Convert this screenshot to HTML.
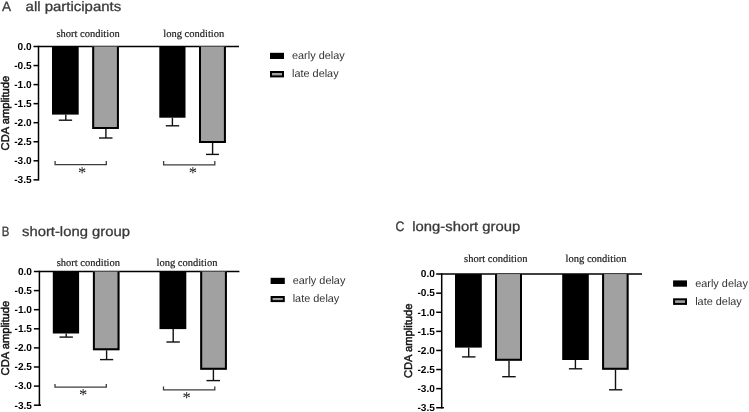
<!DOCTYPE html>
<html><head><meta charset="utf-8"><style>
html,body{margin:0;padding:0;background:#fff;}
body{width:749px;height:412px;overflow:hidden;position:relative;}
svg{position:absolute;left:0;top:0;filter:grayscale(1);}
text{font-family:"Liberation Sans",sans-serif;text-rendering:geometricPrecision;}
.tk{font-size:10.1px;font-weight:bold;text-anchor:end;fill:#000;}
.cond{font-family:"Liberation Serif",serif;font-size:10.5px;fill:#1a1a1a;stroke:#1a1a1a;stroke-width:0.2px;}
.lg{font-size:10.9px;fill:#333;}
.tt{font-size:13.6px;fill:#3a3a3a;stroke:#3a3a3a;stroke-width:0.3px;}
.yl{font-size:11.2px;text-anchor:middle;fill:#111;stroke:#111;stroke-width:0.45px;}
.ast{font-family:"Liberation Serif",serif;font-size:16.5px;text-anchor:middle;fill:#1a1a1a;}
</style></head><body>
<svg width="749" height="412" viewBox="0 0 749 412">
<line x1="38.5" y1="45.75" x2="38.5" y2="180.6" stroke="#000" stroke-width="1.5"/>
<line x1="33.5" y1="46.5" x2="239" y2="46.5" stroke="#000" stroke-width="1.5"/>
<text x="31.6" y="49.8" class="tk">0.0</text>
<line x1="33.5" y1="65.55" x2="38.5" y2="65.55" stroke="#000" stroke-width="1.5"/>
<text x="31.6" y="68.85" class="tk">-0.5</text>
<line x1="33.5" y1="84.6" x2="38.5" y2="84.6" stroke="#000" stroke-width="1.5"/>
<text x="31.6" y="87.9" class="tk">-1.0</text>
<line x1="33.5" y1="103.65" x2="38.5" y2="103.65" stroke="#000" stroke-width="1.5"/>
<text x="31.6" y="106.95" class="tk">-1.5</text>
<line x1="33.5" y1="122.7" x2="38.5" y2="122.7" stroke="#000" stroke-width="1.5"/>
<text x="31.6" y="126.0" class="tk">-2.0</text>
<line x1="33.5" y1="141.75" x2="38.5" y2="141.75" stroke="#000" stroke-width="1.5"/>
<text x="31.6" y="145.05" class="tk">-2.5</text>
<line x1="33.5" y1="160.8" x2="38.5" y2="160.8" stroke="#000" stroke-width="1.5"/>
<text x="31.6" y="164.1" class="tk">-3.0</text>
<line x1="33.5" y1="179.85" x2="38.5" y2="179.85" stroke="#000" stroke-width="1.5"/>
<text x="31.6" y="183.15" class="tk">-3.5</text>
<rect x="52" y="46.5" width="26.7" height="68.1" fill="#000"/>
<line x1="65.8" y1="114.6" x2="65.8" y2="120.2" stroke="#111" stroke-width="1.4"/>
<line x1="58.8" y1="120.2" x2="72.1" y2="120.2" stroke="#111" stroke-width="1.4"/>
<rect x="92.2" y="46.5" width="26.7" height="82.5" fill="#a1a1a1"/>
<path d="M93.2 46.5 V128.0 H117.9 V46.5" fill="none" stroke="#000" stroke-width="2"/>
<line x1="105.9" y1="129.0" x2="105.9" y2="138.0" stroke="#111" stroke-width="1.4"/>
<line x1="99" y1="138.0" x2="112.5" y2="138.0" stroke="#111" stroke-width="1.4"/>
<rect x="159.3" y="46.5" width="26.2" height="71.2" fill="#000"/>
<line x1="172.4" y1="117.7" x2="172.4" y2="125.8" stroke="#111" stroke-width="1.4"/>
<line x1="165.8" y1="125.8" x2="179.2" y2="125.8" stroke="#111" stroke-width="1.4"/>
<rect x="199" y="46.5" width="26.9" height="96.5" fill="#a1a1a1"/>
<path d="M200 46.5 V142.0 H224.9 V46.5" fill="none" stroke="#000" stroke-width="2"/>
<line x1="212.6" y1="143.0" x2="212.6" y2="154.4" stroke="#111" stroke-width="1.4"/>
<line x1="206" y1="154.4" x2="219" y2="154.4" stroke="#111" stroke-width="1.4"/>
<path d="M55.1 161.0 V164.6 H106.3 V161.0" fill="none" stroke="#3c3c3c" stroke-width="1.3"/>
<text x="82.1" y="177.80" class="ast">*</text>
<path d="M163.6 161.1 V164.8 H214.8 V161.1" fill="none" stroke="#3c3c3c" stroke-width="1.3"/>
<text x="192.8" y="177.90" class="ast">*</text>
<text x="56.4" y="37" class="cond">short condition</text>
<text x="163.3" y="36.9" class="cond">long condition</text>
<rect x="270" y="52.8" width="14" height="6.2" fill="#000"/>
<rect x="271" y="72" width="12" height="4.4" fill="#a1a1a1" stroke="#000" stroke-width="2"/>
<text x="292" y="58.8" class="lg">early delay</text>
<text x="292" y="77.1" class="lg">late delay</text>
<text x="2.1" y="11.1" class="tt">A</text>
<text x="25.6" y="11.1" class="tt" textLength="95.6" lengthAdjust="spacingAndGlyphs">all participants</text>
<text x="0" y="0" class="yl" transform="translate(8.6 113.1) rotate(-90)">CDA amplitude</text>
<line x1="39.4" y1="270.75" x2="39.4" y2="405.95" stroke="#000" stroke-width="1.5"/>
<line x1="33.9" y1="271.5" x2="239.4" y2="271.5" stroke="#000" stroke-width="1.5"/>
<text x="32.0" y="274.8" class="tk">0.0</text>
<line x1="33.9" y1="290.6" x2="39.4" y2="290.6" stroke="#000" stroke-width="1.5"/>
<text x="32.0" y="293.9" class="tk">-0.5</text>
<line x1="33.9" y1="309.7" x2="39.4" y2="309.7" stroke="#000" stroke-width="1.5"/>
<text x="32.0" y="313.0" class="tk">-1.0</text>
<line x1="33.9" y1="328.8" x2="39.4" y2="328.8" stroke="#000" stroke-width="1.5"/>
<text x="32.0" y="332.1" class="tk">-1.5</text>
<line x1="33.9" y1="347.9" x2="39.4" y2="347.9" stroke="#000" stroke-width="1.5"/>
<text x="32.0" y="351.2" class="tk">-2.0</text>
<line x1="33.9" y1="367.0" x2="39.4" y2="367.0" stroke="#000" stroke-width="1.5"/>
<text x="32.0" y="370.3" class="tk">-2.5</text>
<line x1="33.9" y1="386.1" x2="39.4" y2="386.1" stroke="#000" stroke-width="1.5"/>
<text x="32.0" y="389.4" class="tk">-3.0</text>
<line x1="33.9" y1="405.2" x2="41.0" y2="405.2" stroke="#000" stroke-width="1.5"/>
<text x="32.0" y="408.5" class="tk">-3.5</text>
<rect x="52.8" y="271.5" width="26.3" height="62.0" fill="#000"/>
<line x1="66.2" y1="333.5" x2="66.2" y2="337.1" stroke="#111" stroke-width="1.4"/>
<line x1="59.5" y1="337.1" x2="72.9" y2="337.1" stroke="#111" stroke-width="1.4"/>
<rect x="92.9" y="271.5" width="26.6" height="78.8" fill="#a1a1a1"/>
<path d="M93.9 271.5 V349.3 H118.5 V271.5" fill="none" stroke="#000" stroke-width="2"/>
<line x1="106.6" y1="350.3" x2="106.6" y2="359.6" stroke="#111" stroke-width="1.4"/>
<line x1="100" y1="359.6" x2="113.2" y2="359.6" stroke="#111" stroke-width="1.4"/>
<rect x="159.5" y="271.5" width="26.8" height="57.6" fill="#000"/>
<line x1="173.2" y1="329.1" x2="173.2" y2="342.0" stroke="#111" stroke-width="1.4"/>
<line x1="166.4" y1="342.0" x2="179.8" y2="342.0" stroke="#111" stroke-width="1.4"/>
<rect x="200.2" y="271.5" width="26.7" height="98.3" fill="#a1a1a1"/>
<path d="M201.2 271.5 V368.8 H225.9 V271.5" fill="none" stroke="#000" stroke-width="2"/>
<line x1="213.4" y1="369.8" x2="213.4" y2="380.6" stroke="#111" stroke-width="1.4"/>
<line x1="206.5" y1="380.6" x2="220" y2="380.6" stroke="#111" stroke-width="1.4"/>
<path d="M55.0 384.0 V387.2 H106.3 V384.0" fill="none" stroke="#3c3c3c" stroke-width="1.3"/>
<text x="83.1" y="399.50" class="ast">*</text>
<path d="M163.5 386.6 V389.9 H214.8 V386.6" fill="none" stroke="#3c3c3c" stroke-width="1.3"/>
<text x="186.7" y="402.50" class="ast">*</text>
<text x="56.7" y="265.7" class="cond">short condition</text>
<text x="156.5" y="265.9" class="cond">long condition</text>
<rect x="270.6" y="277.8" width="14.2" height="6.2" fill="#000"/>
<rect x="271.6" y="297" width="12.2" height="4.1" fill="#a1a1a1" stroke="#000" stroke-width="2"/>
<text x="292.7" y="283.8" class="lg">early delay</text>
<text x="292.7" y="302.1" class="lg">late delay</text>
<text x="1.7" y="235.6" class="tt" textLength="7.6" lengthAdjust="spacingAndGlyphs">B</text>
<text x="22" y="235.6" class="tt" textLength="107.9" lengthAdjust="spacingAndGlyphs">short-long group</text>
<text x="0" y="0" class="yl" transform="translate(8.6 338.1) rotate(-90)">CDA amplitude</text>
<line x1="441.7" y1="273.35" x2="441.7" y2="408.48" stroke="#000" stroke-width="1.5"/>
<line x1="436.2" y1="274.1" x2="642" y2="274.1" stroke="#000" stroke-width="1.5"/>
<text x="434.9" y="277.4" class="tk">0.0</text>
<line x1="436.2" y1="293.19" x2="441.7" y2="293.19" stroke="#000" stroke-width="1.5"/>
<text x="434.9" y="296.49" class="tk">-0.5</text>
<line x1="436.2" y1="312.28" x2="441.7" y2="312.28" stroke="#000" stroke-width="1.5"/>
<text x="434.9" y="315.58" class="tk">-1.0</text>
<line x1="436.2" y1="331.37" x2="441.7" y2="331.37" stroke="#000" stroke-width="1.5"/>
<text x="434.9" y="334.67" class="tk">-1.5</text>
<line x1="436.2" y1="350.46" x2="441.7" y2="350.46" stroke="#000" stroke-width="1.5"/>
<text x="434.9" y="353.76" class="tk">-2.0</text>
<line x1="436.2" y1="369.55" x2="441.7" y2="369.55" stroke="#000" stroke-width="1.5"/>
<text x="434.9" y="372.85" class="tk">-2.5</text>
<line x1="436.2" y1="388.64" x2="441.7" y2="388.64" stroke="#000" stroke-width="1.5"/>
<text x="434.9" y="391.94" class="tk">-3.0</text>
<line x1="436.2" y1="407.73" x2="443.9" y2="407.73" stroke="#000" stroke-width="1.5"/>
<text x="434.9" y="411.03" class="tk">-3.5</text>
<rect x="455" y="274.1" width="26.8" height="73.5" fill="#000"/>
<line x1="468.7" y1="347.6" x2="468.7" y2="356.9" stroke="#111" stroke-width="1.4"/>
<line x1="462.1" y1="356.9" x2="475.5" y2="356.9" stroke="#111" stroke-width="1.4"/>
<rect x="495" y="274.1" width="27" height="86.7" fill="#a1a1a1"/>
<path d="M496 274.1 V359.8 H521 V274.1" fill="none" stroke="#000" stroke-width="2"/>
<line x1="509" y1="360.8" x2="509" y2="376.7" stroke="#111" stroke-width="1.4"/>
<line x1="502.2" y1="376.7" x2="515.7" y2="376.7" stroke="#111" stroke-width="1.4"/>
<rect x="562.2" y="274.1" width="26.6" height="85.9" fill="#000"/>
<line x1="575.4" y1="360.0" x2="575.4" y2="368.8" stroke="#111" stroke-width="1.4"/>
<line x1="568.9" y1="368.8" x2="582.2" y2="368.8" stroke="#111" stroke-width="1.4"/>
<rect x="602.1" y="274.1" width="26.5" height="95.7" fill="#a1a1a1"/>
<path d="M603.1 274.1 V368.8 H627.6 V274.1" fill="none" stroke="#000" stroke-width="2"/>
<line x1="615.5" y1="369.8" x2="615.5" y2="389.8" stroke="#111" stroke-width="1.4"/>
<line x1="609" y1="389.8" x2="622.2" y2="389.8" stroke="#111" stroke-width="1.4"/>
<text x="464.1" y="261.7" class="cond">short condition</text>
<text x="565.6" y="261.5" class="cond">long condition</text>
<rect x="673.1" y="280.4" width="13.9" height="6.3" fill="#000"/>
<rect x="674.1" y="299.3" width="11.9" height="4.6" fill="#a1a1a1" stroke="#000" stroke-width="2"/>
<text x="695.2" y="286.7" class="lg">early delay</text>
<text x="695.2" y="304.9" class="lg">late delay</text>
<text x="395.6" y="230.8" class="tt" textLength="8.9" lengthAdjust="spacingAndGlyphs">C</text>
<text x="412.3" y="230.8" class="tt" textLength="107.9" lengthAdjust="spacingAndGlyphs">long-short group</text>
<text x="0" y="0" class="yl" transform="translate(411.6 340.8) rotate(-90)">CDA amplitude</text>
</svg>
</body></html>
